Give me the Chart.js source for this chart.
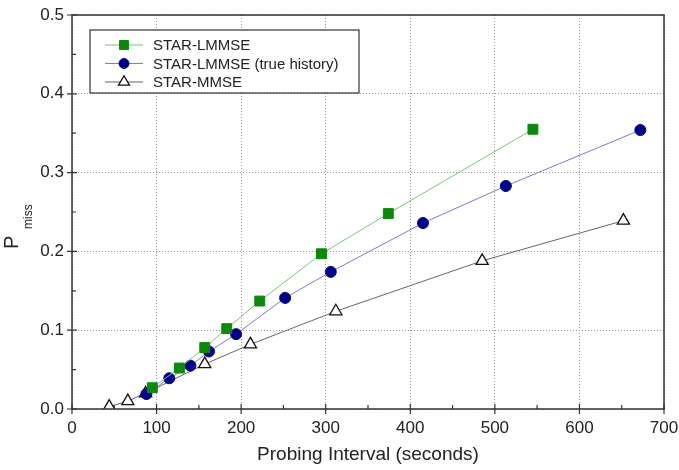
<!DOCTYPE html>
<html>
<head>
<meta charset="utf-8">
<script src="https://cdn.jsdelivr.net/npm/chart.js@4/dist/chart.umd.min.js"></script>
<style>
  html, body { margin: 0; padding: 0; background: #fff; }
  #wrap { width: 679px; height: 470px; }
</style>
</head>
<body>
<div id="wrap"><canvas id="myChart" width="679" height="470"></canvas></div>
<script>
// values
const seriesNames = ['STAR-LMMSE', 'STAR-LMMSE (true history)', 'STAR-MMSE'];

const lmmseX = [95, 127, 157, 183, 222, 295, 374, 545];
const lmmseY = [0.027, 0.052, 0.078, 0.102, 0.137, 0.197, 0.248, 0.355];

const trueX = [88, 115, 140, 162, 194, 252, 306, 415, 513, 672];
const trueY = [0.019, 0.039, 0.055, 0.073, 0.095, 0.141, 0.174, 0.236, 0.283, 0.354];

const mmseX = [44, 66, 87, 157, 211, 312, 485, 652];
const mmseY = [0.003, 0.010, 0.020, 0.057, 0.082, 0.124, 0.188, 0.239];

const xTicks = [0, 100, 200, 300, 400, 500, 600, 700];
const yTicks = [0.0, 0.1, 0.2, 0.3, 0.4, 0.5];

function pts(xs, ys) {
  return xs.map((x, i) => ({ x: x, y: ys[i] }));
}

const FONT = '"Liberation Sans", Arial, sans-serif';

// axes frame, ticks, y title and legend drawn by hand
const framePlugin = {
  id: 'frame',
  afterDraw(chart) {
    const ctx = chart.ctx;
    const a = chart.chartArea;
    const xs = chart.scales.x, ys = chart.scales.y;
    ctx.save();
    ctx.strokeStyle = '#333';
    ctx.lineWidth = 1.5;
    ctx.strokeRect(a.left, a.top, a.right - a.left, a.bottom - a.top);

    ctx.lineWidth = 1.2;
    ctx.beginPath();
    // major ticks cross the axis, minor ticks sit inside
    xTicks.forEach(v => {
      const px = xs.getPixelForValue(v);
      ctx.moveTo(px, a.bottom - 5); ctx.lineTo(px, a.bottom + 5);
    });
    for (let v = 50; v < 700; v += 100) {
      const px = xs.getPixelForValue(v);
      ctx.moveTo(px, a.bottom); ctx.lineTo(px, a.bottom - 4);
    }
    yTicks.forEach(v => {
      const py = ys.getPixelForValue(v);
      ctx.moveTo(a.left - 5, py); ctx.lineTo(a.left + 5, py);
    });
    for (let v = 0.05; v < 0.5; v += 0.1) {
      const py = ys.getPixelForValue(v);
      ctx.moveTo(a.left, py); ctx.lineTo(a.left + 4, py);
    }
    ctx.stroke();

    // y axis title P_miss
    ctx.fillStyle = '#222';
    ctx.translate(18, 249);
    ctx.rotate(-Math.PI / 2);
    ctx.textBaseline = 'alphabetic';
    ctx.textAlign = 'left';
    ctx.font = '20px ' + FONT;
    ctx.fillText('P', 0, 0);
    ctx.font = '12px ' + FONT;
    ctx.fillText('miss', 20, 14);
    ctx.restore();

    // legend
    ctx.save();
    const bx = 90, by = 30, bw = 269, bh = 63;
    ctx.fillStyle = '#fff';
    ctx.fillRect(bx, by, bw, bh);
    ctx.strokeStyle = '#333';
    ctx.lineWidth = 1.2;
    ctx.strokeRect(bx, by, bw, bh);
    ctx.font = '15px ' + FONT;
    ctx.textBaseline = 'middle';
    chart.data.datasets.forEach((ds, i) => {
      const cy = 45 + i * 18.5;
      ctx.strokeStyle = ds.borderColor;
      ctx.lineWidth = 1;
      ctx.beginPath();
      ctx.moveTo(105, cy); ctx.lineTo(143, cy);
      ctx.stroke();
      ctx.fillStyle = ds.pointBackgroundColor;
      ctx.strokeStyle = ds.pointBorderColor;
      ctx.lineWidth = ds.pointBorderWidth;
      Chart.helpers.drawPoint(ctx, {
        pointStyle: ds.pointStyle,
        radius: ds.pointRadius * 0.9,
        borderWidth: ds.pointBorderWidth
      }, 124, cy);
      ctx.fillStyle = '#222';
      ctx.fillText(ds.label, 153, cy + 1);
    });
    ctx.restore();
  }
};

const ctx = document.getElementById('myChart').getContext('2d');
const myChart = new Chart(ctx, {
  type: 'scatter',
  data: {
    datasets: [
      {
        label: seriesNames[0],
        data: pts(lmmseX, lmmseY),
        showLine: true,
        borderColor: '#7cc47c',
        borderWidth: 1,
        pointStyle: 'rect',
        pointRadius: 7,
        pointBackgroundColor: '#0a8a0a',
        pointBorderColor: '#0a8a0a',
        pointBorderWidth: 1
      },
      {
        label: seriesNames[1],
        data: pts(trueX, trueY),
        showLine: true,
        borderColor: '#7b7bd0',
        borderWidth: 1,
        pointStyle: 'circle',
        pointRadius: 5.5,
        pointBackgroundColor: '#00008b',
        pointBorderColor: '#00008b',
        pointBorderWidth: 1
      },
      {
        label: seriesNames[2],
        data: pts(mmseX, mmseY),
        showLine: true,
        borderColor: '#666',
        borderWidth: 1,
        pointStyle: 'triangle',
        pointRadius: 7,
        pointBackgroundColor: '#fff',
        pointBorderColor: '#111',
        pointBorderWidth: 1.3
      }
    ]
  },
  options: {
    responsive: false,
    animation: false,
    layout: { padding: { top: 15, right: 15, left: 0, bottom: 0 } },
    plugins: {
      legend: { display: false },
      tooltip: { enabled: false }
    },
    scales: {
      x: {
        type: 'linear',
        min: 0, max: 700,
        afterBuildTicks: s => { s.ticks = xTicks.map(v => ({ value: v })); },
        afterFit: s => { s.height = 61; s.paddingLeft = 0; s.paddingRight = 0; },
        border: { display: false, dash: [1, 2] },
        grid: { color: '#999', lineWidth: 1, drawTicks: false },
        ticks: { color: '#222', padding: 9, font: { family: FONT, size: 17 }, maxRotation: 0 },
        title: { display: true, text: 'Probing Interval (seconds)', color: '#222', padding: { top: 5 }, font: { family: FONT, size: 19 } }
      },
      y: {
        type: 'linear',
        min: 0, max: 0.5,
        afterBuildTicks: s => { s.ticks = yTicks.map(v => ({ value: v })); },
        afterFit: s => { s.width = 72; s.paddingTop = 0; s.paddingBottom = 0; },
        border: { display: false, dash: [1, 2] },
        grid: { color: '#999', lineWidth: 1, drawTicks: false },
        ticks: { color: '#222', padding: 8, font: { family: FONT, size: 17 }, callback: v => v.toFixed(1) }
      }
    }
  },
  plugins: [framePlugin]
});
</script>
</body>
</html>
